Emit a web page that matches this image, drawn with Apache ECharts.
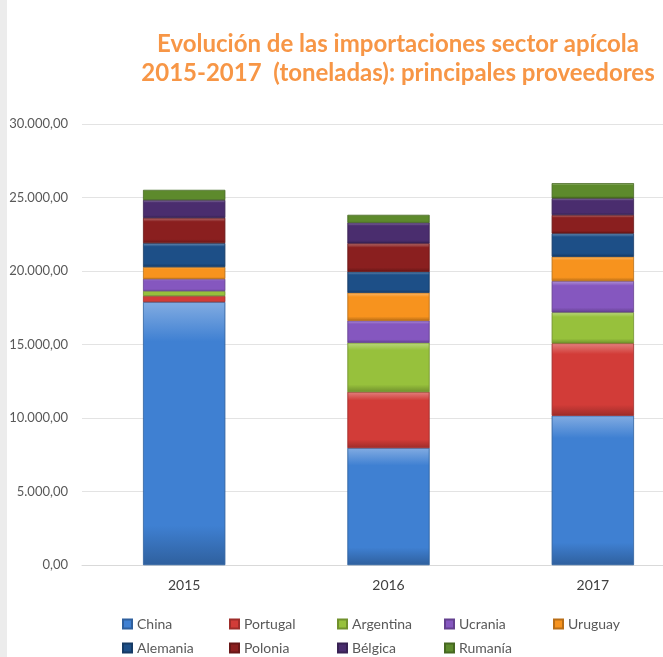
<!DOCTYPE html>
<html>
<head>
<meta charset="utf-8">
<script src="https://cdn.jsdelivr.net/npm/echarts@6/dist/echarts.min.js"></script>
<style>
  html, body { margin: 0; padding: 0; background: #fff; }
  #main { width: 663px; height: 657px; }
</style>
</head>
<body>
<div id="main"></div>
<script>
const anos = ['2015', '2016', '2017'];
const paises = ['China', 'Portugal', 'Argentina', 'Ucrania', 'Uruguay', 'Alemania', 'Polonia', 'Bélgica', 'Rumanía'];
const china     = [17890, 7960, 10160];
const portugal  = [410, 3810, 4920];
const argentina = [340, 3350, 2110];
const ucrania   = [820, 1500, 2130];
const uruguay   = [810, 1900, 1650];
const alemania  = [1630, 1430, 1590];
const polonia   = [1710, 1930, 1250];
const belgica   = [1220, 1410, 1140];
const rumania   = [680, 520, 1020];
const valores = [china, portugal, argentina, ucrania, uruguay, alemania, polonia, belgica, rumania];
const colores = ['#3f80d2', '#d23c38', '#97c13c', '#8557bf', '#f7931e', '#1d4f87', '#8a1f1f', '#4a2d6e', '#5d8a2c'];

function sombra(c, f) {
  const n = parseInt(c.slice(1), 16);
  let r = n >> 16, g = (n >> 8) & 255, b = n & 255;
  const m = v => Math.max(0, Math.min(255, Math.round(f > 0 ? v + (255 - v) * f : v * (1 + f))));
  return 'rgb(' + m(r) + ',' + m(g) + ',' + m(b) + ')';
}

var myChart = echarts.init(document.getElementById('main'));
var option;

const fmt = v => {
  const s = Math.round(v).toString().replace(/\B(?=(\d{3})+(?!\d))/g, '.');
  return s + ',00';
};

// una leyenda por país para fijar las columnas
const colX = [117, 224, 332, 439, 548];
const leyendas = paises.map((p, i) => ({
  data: [p],
  left: colX[i % 5],
  top: i < 5 ? 612 : 636,
  itemWidth: 9, itemHeight: 9,
  icon: 'rect',
  textStyle: { color: '#595959', fontSize: 14, fontFamily: 'Lato' }
}));

option = {
  backgroundColor: '#fff',
  title: {
    text: 'Evolución de las importaciones sector apícola\n2015-2017  (toneladas): principales proveedores',
    left: 393,
    textAlign: 'center',
    top: 25,
    textStyle: { color: '#f79646', fontFamily: 'Lato', fontWeight: 'bold', fontSize: 24, lineHeight: 29 }
  },
  graphic: [
    { type: 'rect', shape: { x: 0, y: 0, width: 7, height: 657 }, style: { fill: '#ececec' } }
  ],
  legend: leyendas,
  grid: { left: 82, width: 613, top: 124, bottom: 92, outerBoundsMode: 'none' },
  xAxis: {
    type: 'category',
    data: anos,
    axisLine: { lineStyle: { color: '#d9d9d9' } },
    axisTick: { show: false },
    axisLabel: { color: '#404040', fontSize: 14, margin: 13, fontFamily: 'Lato' }
  },
  yAxis: {
    type: 'value',
    min: 0, max: 30000, interval: 5000,
    splitLine: { lineStyle: { color: '#e3e3e3' } },
    axisLabel: { color: '#595959', fontSize: 13, margin: 14, formatter: fmt, fontFamily: 'Lato' }
  },
  series: paises.map((p, i) => ({
    name: p,
    type: 'bar',
    stack: 'total',
    barWidth: 82,
    data: valores[i],
    itemStyle: {
      color: {
        type: 'linear', x: 0, y: 0, x2: 0, y2: 1,
        colorStops: [
          { offset: 0, color: sombra(colores[i], 0.35) },
          { offset: 0.15, color: colores[i] },
          { offset: 0.85, color: colores[i] },
          { offset: 1, color: sombra(colores[i], -0.25) }
        ]
      },
      borderColor: sombra(colores[i], -0.25),
      borderWidth: 0.5
    }
  }))
};

option && myChart.setOption(option);
</script>
</body>
</html>
